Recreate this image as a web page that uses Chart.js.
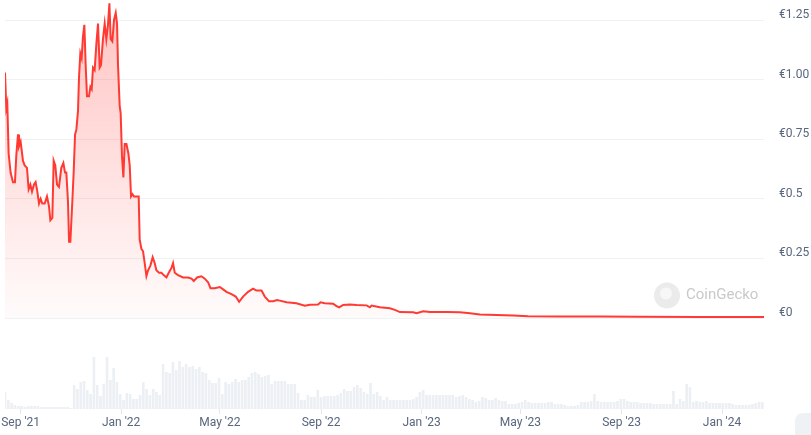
<!DOCTYPE html>
<html>
<head>
<meta charset="utf-8">
<script src="https://cdn.jsdelivr.net/npm/chart.js@4.4.1/dist/chart.umd.min.js"></script>
<style>
  body { margin: 0; background: #fff; }
  #wrap { position: relative; width: 811px; height: 435px; }
  #corner { position: absolute; left: 795px; top: 413px; width: 30px; height: 30px; border-radius: 8px; background: #eff2f5; }
</style>
</head>
<body>
<div id="wrap">
  <canvas id="priceChart"></canvas>
  <div id="corner"></div>
</div>
<script>
// x values are days counted from 1 Sep 2021

// price (EUR)
const priceDays = [
  -19, -17.4, -16.2, -14.6, -12.2, -9.3, -6.9, -5.3, -3.2, -2, 0, 2.8, 4.9, 7.7, 9.7, 11.8, 13.8, 16.2, 18.2, 20.3,
  22.3, 24.3, 26.3, 29.2, 32, 34.4, 36.1, 38.5, 40.1, 42.1, 44.2, 46.6, 49.4, 51.9, 53.9, 55.5, 57.5, 58.8, 60.4, 62.8,
  64.4, 66.1, 67.7, 69.7, 70.9, 72.5, 74.1, 75.7, 77.4, 79, 80.6, 83, 84.7, 86.3, 87.9, 89.9, 92, 94, 96, 97.6,
  100, 102.1, 104.1, 106.1, 107.8, 109.4, 111.4, 113.4, 115.5, 117.1, 118.3, 120.3, 121.5, 123.1, 124.8, 126.4, 128.5, 130.9, 132.5, 134.1,
  135.8, 137.7, 140.6, 143.4, 144.6, 146.7, 148.7, 150.7, 152.8, 154.8, 157.6, 160.4, 162.9, 164.9, 168.1, 171, 173.8, 177.1, 179.9, 183.2,
  185.1, 187.2, 191.2, 197.3, 203.4, 207.5, 210.3, 214.3, 219.6, 223.7, 227.7, 230.6, 235.8, 241.9, 246, 250, 256.1, 261.3, 265.4, 270.2,
  276.3, 282.4, 286.5, 292.6, 296.6, 301.8, 306.7, 311.6, 314.8, 323, 335, 345.2, 351.3, 361.4, 364.3, 369.5, 379.6, 383.7, 386.9, 391.8,
  399.9, 408, 420.2, 424.2, 426.3, 436.4, 448.5, 454.6, 460.7, 476.9, 481, 489, 497.1, 517.4, 533.6, 545.8, 557.9, 578.2, 598.4, 616.3,
  655, 704, 752, 825, 903
];
const priceValues = [
  1.03, 0.88, 0.90, 0.69, 0.61, 0.57, 0.57, 0.68, 0.77, 0.72, 0.74, 0.66, 0.64, 0.63, 0.54, 0.56, 0.53, 0.56, 0.57, 0.53,
  0.48, 0.50, 0.48, 0.48, 0.51, 0.47, 0.41, 0.42, 0.66, 0.64, 0.56, 0.55, 0.63, 0.65, 0.61, 0.61, 0.49, 0.32, 0.32, 0.49,
  0.61, 0.77, 0.79, 0.87, 1.01, 1.11, 1.09, 1.18, 1.23, 1.06, 0.93, 0.93, 0.97, 0.96, 1.05, 1.04, 1.15, 1.235, 1.05, 1.06,
  1.17, 1.235, 1.17, 1.23, 1.32, 1.17, 1.16, 1.25, 1.28, 1.235, 1.06, 0.89, 0.86, 0.68, 0.59, 0.73, 0.73, 0.69, 0.64, 0.51,
  0.52, 0.51, 0.51, 0.51, 0.33, 0.29, 0.28, 0.23, 0.176, 0.20, 0.22, 0.255, 0.23, 0.20, 0.19, 0.19, 0.18, 0.17, 0.19, 0.21,
  0.23, 0.19, 0.18, 0.17, 0.17, 0.165, 0.155, 0.17, 0.175, 0.165, 0.15, 0.125, 0.125, 0.13, 0.12, 0.11, 0.10, 0.09, 0.068, 0.09,
  0.11, 0.123, 0.115, 0.115, 0.09, 0.07, 0.07, 0.075, 0.073, 0.066, 0.062, 0.052, 0.056, 0.057, 0.066, 0.062, 0.060, 0.050, 0.045, 0.055,
  0.057, 0.055, 0.053, 0.045, 0.052, 0.045, 0.041, 0.034, 0.025, 0.024, 0.020, 0.028, 0.025, 0.025, 0.024, 0.020, 0.015, 0.013, 0.010, 0.007,
  0.006, 0.006, 0.005, 0.004, 0.004
];

// trading volume (relative, no scale shown), one bar every 4 days
const volumeStartDay = -19;
const volumeStepDays = 4;
const volumeValues = [
  17, 9, 6, 4, 3, 3, 2, 3, 3, 3, 3, 2, 2, 2, 2, 2, 2, 2, 2, 2,
  1, 24, 20, 27, 28, 19, 15, 52, 24, 13, 25, 52, 29, 41, 27, 15, 9, 16, 15, 10,
  10, 14, 27, 20, 14, 20, 17, 14, 45, 37, 36, 47, 39, 48, 42, 45, 42, 43, 40, 42,
  37, 36, 29, 26, 26, 31, 15, 27, 25, 27, 30, 27, 29, 29, 32, 36, 37, 35, 32, 33,
  34, 25, 28, 28, 28, 28, 25, 25, 25, 16, 9, 9, 14, 12, 12, 19, 12, 13, 13, 13,
  13, 14, 16, 20, 18, 18, 22, 24, 21, 17, 15, 26, 15, 17, 13, 9, 12, 9, 9, 9,
  9, 9, 9, 9, 10, 12, 17, 19, 14, 14, 14, 14, 14, 14, 14, 14, 14, 12, 13, 14,
  12, 10, 9, 7, 8, 12, 11, 9, 9, 11, 9, 8, 8, 5, 5, 5, 6, 7, 9, 7,
  6, 6, 6, 6, 6, 7, 7, 5, 5, 5, 4, 3, 3, 3, 4, 7, 7, 7, 8, 15,
  8, 7, 7, 7, 7, 7, 8, 10, 10, 8, 7, 7, 7, 6, 6, 6, 6, 5, 5, 5,
  5, 5, 5, 18, 5, 10, 8, 25, 22, 7, 8, 7, 7, 8, 6, 6, 6, 6, 6, 6,
  6, 5, 4, 4, 4, 4, 4, 5, 6, 7, 7
];

// axes
const xMinDay = -19;
const xMaxDay = 903;
const xTickDays = [0, 122, 242, 365, 487, 607, 730, 852];
const xTickLabels = ["Sep '21", "Jan '22", "May '22", "Sep '22", "Jan '23", "May '23", "Sep '23", "Jan '24"];
const priceTickValues = [0, 0.25, 0.5, 0.75, 1, 1.25];
const priceTickLabels = ['€0', '€0.25', '€0.5', '€0.75', '€1.00', '€1.25'];

const lineRed = '#ff3a33';
const labelColor = '#58667e';

const pricePoints = priceDays.map((d, i) => ({ x: d, y: priceValues[i] }));
const volumePoints = volumeValues.map((v, i) => ({ x: volumeStartDay + i * volumeStepDays, y: v }));

function priceFill(context) {
  const chart = context.chart;
  const area = chart.chartArea;
  if (!area) return 'rgba(255,58,51,0.1)';
  const zeroY = chart.scales.y.getPixelForValue(0);
  const g = chart.ctx.createLinearGradient(0, area.top, 0, zeroY);
  g.addColorStop(0, 'rgba(255,58,51,0.30)');
  g.addColorStop(1, 'rgba(255,58,51,0.02)');
  return g;
}

// drop the extra room Chart.js keeps for edge labels
function noEdgePadding(scale) {
  scale.paddingTop = 0;
  scale.paddingBottom = 0;
  scale.paddingLeft = 0;
  scale.paddingRight = 0;
}

// faint CoinGecko mark in the lower right of the price panel
const watermark = {
  id: 'watermark',
  beforeDatasetsDraw(chart) {
    const ctx = chart.ctx;
    const cx = chart.chartArea.right - 97;
    const cy = chart.scales.y.getPixelForValue(0) - 22.5;
    ctx.save();
    ctx.fillStyle = '#ebebeb';
    ctx.beginPath();
    ctx.arc(cx, cy, 13, 0, Math.PI * 2);
    ctx.fill();
    ctx.fillStyle = '#f7f7f7';
    ctx.beginPath();
    ctx.arc(cx - 1, cy - 2, 6, 0, Math.PI * 2);
    ctx.fill();
    ctx.fillStyle = '#c9c9c9';
    ctx.font = '15px Roboto, sans-serif';
    ctx.textBaseline = 'middle';
    ctx.fillText('CoinGecko', cx + 19, cy);
    ctx.restore();
  }
};

const ctx = document.getElementById('priceChart');

new Chart(ctx, {
  type: 'line',
  data: {
    datasets: [
      {
        label: 'Price',
        data: pricePoints,
        yAxisID: 'y',
        borderColor: lineRed,
        borderWidth: 2,
        pointRadius: 0,
        tension: 0,
        fill: 'origin',
        backgroundColor: priceFill,
        order: 1
      },
      {
        type: 'bar',
        label: 'Volume',
        data: volumePoints,
        yAxisID: 'yVol',
        backgroundColor: '#eceff3',
        barPercentage: 0.8,
        categoryPercentage: 1.0,
        order: 2
      }
    ]
  },
  options: {
    responsive: true,
    maintainAspectRatio: false,
    animation: false,
    layout: { padding: { left: 5, right: 0, top: 0, bottom: 0 } },
    plugins: { legend: { display: false }, tooltip: { enabled: false } },
    scales: {
      x: {
        type: 'linear',
        offset: false,
        min: xMinDay,
        max: xMaxDay,
        border: { display: false },
        grid: { drawOnChartArea: false, drawTicks: true, tickLength: 5, color: '#e3e6ea', offset: false },
        afterBuildTicks: (scale) => { scale.ticks = xTickDays.map(v => ({ value: v })); },
        afterFit: (scale) => { scale.height = 26; noEdgePadding(scale); },
        ticks: {
          autoSkip: false,
          maxRotation: 0,
          padding: 2,
          color: labelColor,
          font: { family: 'Roboto, sans-serif', size: 12 },
          callback: (value) => xTickLabels[xTickDays.indexOf(value)]
        }
      },
      y: {
        position: 'right',
        min: -0.3817,
        max: 1.334,
        border: { display: false },
        grid: { color: '#eff2f5', drawTicks: false },
        afterBuildTicks: (scale) => { scale.ticks = priceTickValues.map(v => ({ value: v })); },
        afterFit: (scale) => { scale.width = 47; noEdgePadding(scale); },
        ticks: {
          padding: 15,
          labelOffset: -5,
          color: labelColor,
          font: { family: 'Roboto, sans-serif', size: 12 },
          callback: (value) => priceTickLabels[priceTickValues.indexOf(value)]
        }
      },
      yVol: {
        display: false,
        min: 0,
        max: 409
      }
    }
  },
  plugins: [watermark]
});
</script>
</body>
</html>
